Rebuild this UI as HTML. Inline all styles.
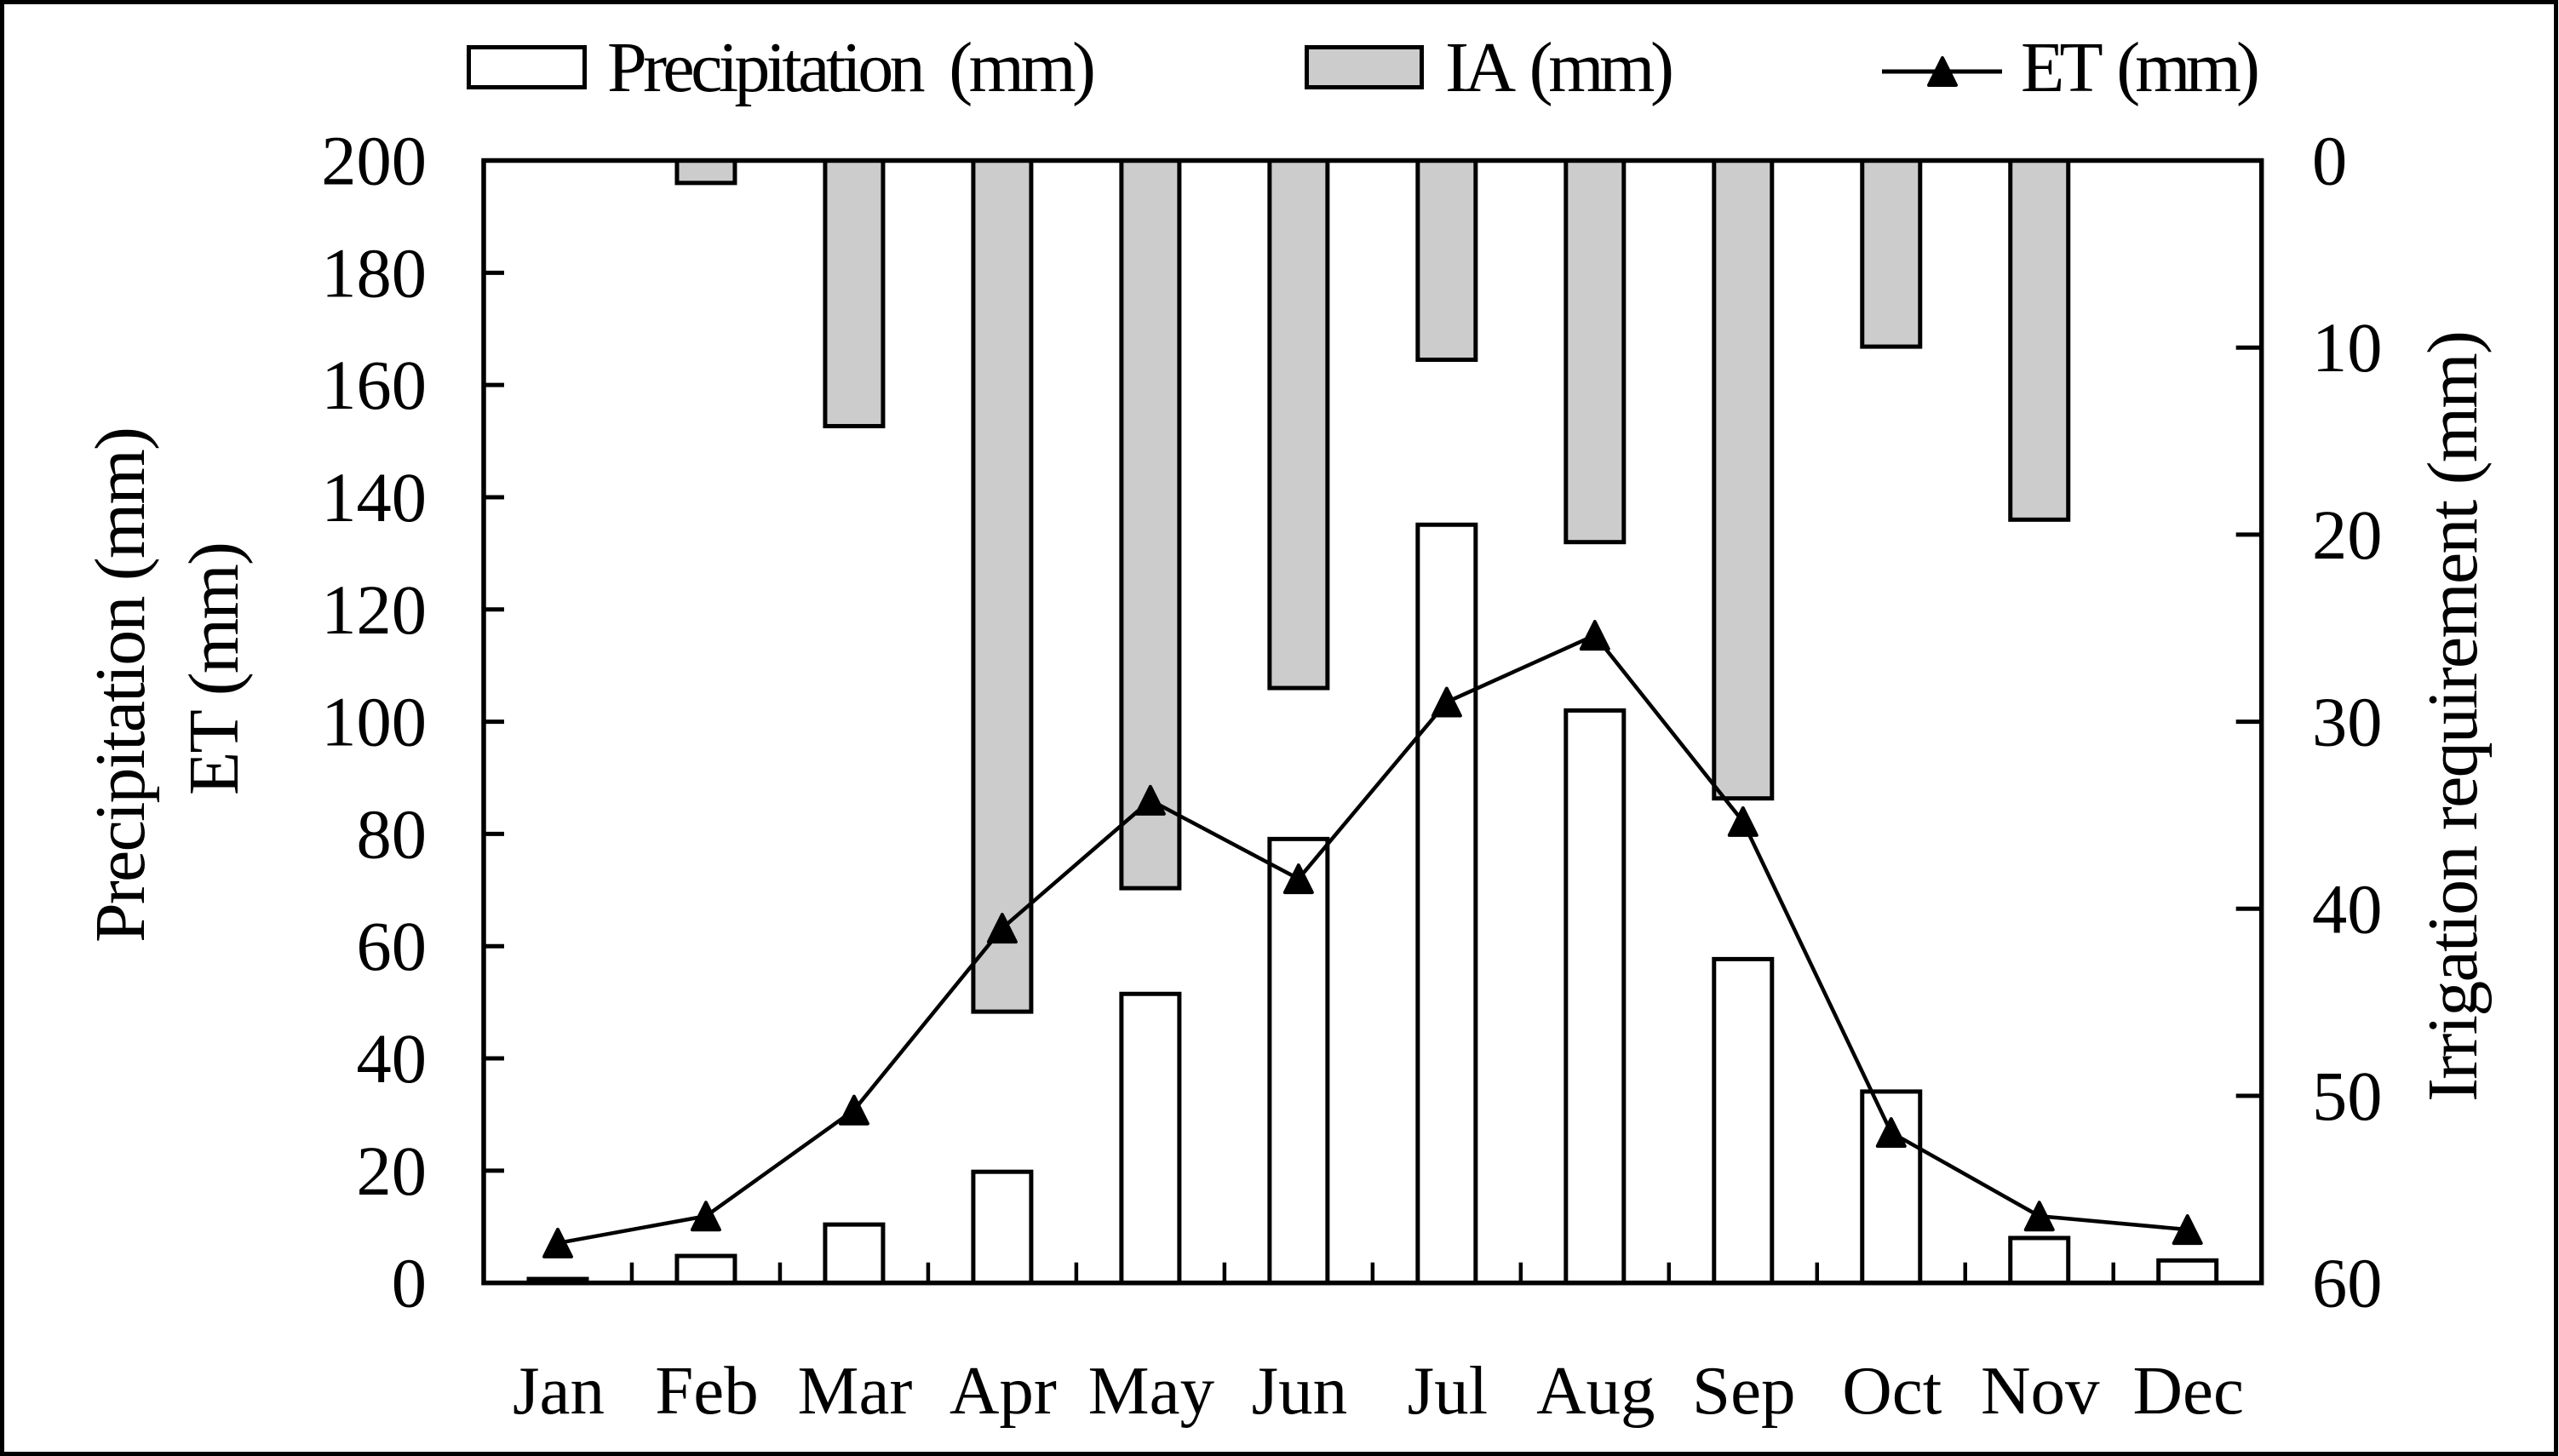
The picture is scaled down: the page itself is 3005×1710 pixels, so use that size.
<!DOCTYPE html>
<html lang="en">
<head>
<meta charset="utf-8">
<title>Monthly precipitation, irrigation requirement and ET</title>
<style>
  html, body { margin: 0; padding: 0; background: #fff; }
  svg { display: block; }
  text { font-family: "Liberation Serif", "Times New Roman", serif; fill: #000; }
</style>
</head>
<body>
<svg id="chart" xmlns="http://www.w3.org/2000/svg" width="3005" height="1710" viewBox="0 0 3005 1710">
  <rect x="2.5" y="2.5" width="2999" height="1705" fill="#fff" stroke="#000" stroke-width="5"/>

  <g>
    <g>
      <rect x="550.5" y="55.5" width="136" height="47" fill="#fff" stroke="#000" stroke-width="5"/>
      <text x="713" y="107" font-size="84" word-spacing="16" textLength="574" lengthAdjust="spacing">Precipitation (mm)</text>
    </g>
    <g>
      <rect x="1534.5" y="55.5" width="135" height="47" fill="#cccccc" stroke="#000" stroke-width="5"/>
      <text x="1697" y="107" font-size="84" word-spacing="10" textLength="269" lengthAdjust="spacing">IA (mm)</text>
    </g>
    <g>
      <line x1="2210" y1="84" x2="2351" y2="84" stroke="#000" stroke-width="5"/>
      <polygon points="2281,68 2297,100 2265,100" fill="#000" stroke="#000" stroke-width="4" stroke-linejoin="round"/>
      <text x="2373" y="107" font-size="84" word-spacing="8" textLength="281" lengthAdjust="spacing">ET (mm)</text>
    </g>
  </g>

  <g id="ia-bars"></g>
  <g id="precip-bars"></g>
  <g id="axes"></g>
  <g id="et-series"></g>

  <text transform="translate(169,1107) rotate(-90)" font-size="84" textLength="606" lengthAdjust="spacing">Precipitation (mm)</text>
  <text transform="translate(279,934) rotate(-90)" font-size="84" textLength="298" lengthAdjust="spacing">ET (mm)</text>
  <text transform="translate(2908,1294) rotate(-90)" font-size="84" textLength="906" lengthAdjust="spacing">Irrigation requirement (mm)</text>
</svg>

<script>
const months = ["Jan","Feb","Mar","Apr","May","Jun","Jul","Aug","Sep","Oct","Nov","Dec"];
const precipitation = [0.7, 4.8, 10.4, 19.8, 51.5, 79.1, 135.1, 102, 57.7, 34.1, 8, 4];
const irrigation = [0, 1.2, 14.2, 45.5, 38.9, 28.2, 10.65, 20.4, 34.1, 9.95, 19.2, 0];
const et = [7.1, 11.9, 30.8, 63.2, 86, 72, 103.5, 115.4, 82.2, 26.8, 11.9, 9.5];
const leftTicks = [0, 20, 40, 60, 80, 100, 120, 140, 160, 180, 200];
const rightTicks = [0, 10, 20, 30, 40, 50, 60];

const NS = "http://www.w3.org/2000/svg";
const plotLeft = 568, plotRight = 2655.7, plotTop = 188.5, plotBottom = 1506.7;
const leftMax = 200, rightMax = 60;
const bandWidth = (plotRight - plotLeft) / months.length;
const barWidth = 68;

function xCenter(i) { return plotLeft + bandWidth * (i + 0.5); }
function xEdge(i) { return plotLeft + bandWidth * i; }
function yLeft(v) { return plotBottom - (v / leftMax) * (plotBottom - plotTop); }
function yRight(v) { return plotTop + (v / rightMax) * (plotBottom - plotTop); }

function make(tag, parent) {
  const el = document.createElementNS(NS, tag);
  parent.appendChild(el);
  return el;
}
function setAll(el, props) {
  for (const k in props) el.setAttribute(k, props[k]);
  return el;
}

const iaGroup = document.getElementById("ia-bars");
const precipGroup = document.getElementById("precip-bars");
const axesGroup = document.getElementById("axes");
const etGroup = document.getElementById("et-series");

irrigation.forEach(function (v, i) {
  if (v <= 0) return;
  const el = make("rect", iaGroup);
  
  
  setAll(el, { x: xCenter(i) - barWidth / 2, y: plotTop, width: barWidth, height: yRight(v) - plotTop,
    fill: "#cccccc", stroke: "#000", "stroke-width": 5 });
});

precipitation.forEach(function (v, i) {
  const el = make("rect", precipGroup);
  
  
  setAll(el, { x: xCenter(i) - barWidth / 2, y: yLeft(v), width: barWidth, height: plotBottom - yLeft(v),
    fill: "#fff", stroke: "#000", "stroke-width": 5 });
});

// plot border
const border = make("rect", axesGroup);


setAll(border, { x: plotLeft, y: plotTop, width: plotRight - plotLeft, height: plotBottom - plotTop,
  fill: "none", stroke: "#000", "stroke-width": 5.5 });

// left axis
leftTicks.forEach(function (v) {
  const y = yLeft(v);
  if (v > 0 && v < leftMax) {
    const t = make("line", axesGroup);
    
    
    setAll(t, { x1: plotLeft, x2: plotLeft + 24, y1: y, y2: y, stroke: "#000", "stroke-width": 5 });
  }
  const label = make("text", axesGroup);
  
  
  setAll(label, { x: 501, y: y + 28, "font-size": 82.5, "text-anchor": "end" });
  label.textContent = String(v);
});

// right axis
rightTicks.forEach(function (v) {
  const y = yRight(v);
  if (v > 0 && v < rightMax) {
    const t = make("line", axesGroup);
    
    
    setAll(t, { x1: plotRight - 30, x2: plotRight, y1: y, y2: y, stroke: "#000", "stroke-width": 5 });
  }
  const label = make("text", axesGroup);
  
  
  setAll(label, { x: 2715, y: y + 28, "font-size": 82.5 });
  label.textContent = String(v);
});

// month ticks and labels
months.forEach(function (m, i) {
  if (i > 0) {
    const t = make("line", axesGroup);
    
    
    setAll(t, { x1: xEdge(i), x2: xEdge(i), y1: plotBottom - 24, y2: plotBottom, stroke: "#000", "stroke-width": 4.5 });
  }
  const label = make("text", axesGroup);
  
  
  setAll(label, { x: xCenter(i) + 1, y: 1660, "font-size": 81, "text-anchor": "middle" });
  label.textContent = m;
});

// ET line and markers
const etLine = make("polyline", etGroup);


setAll(etLine, { points: et.map(function (v, i) { return xCenter(i) + "," + yLeft(v); }).join(" "),
  fill: "none", stroke: "#000", "stroke-width": 4.5, "stroke-linejoin": "round" });

et.forEach(function (v, i) {
  const cx = xCenter(i), cy = yLeft(v);
  const marker = make("polygon", etGroup);
  
  
  setAll(marker, { points: cx + "," + (cy - 16) + " " + (cx + 16) + "," + (cy + 16) + " " + (cx - 16) + "," + (cy + 16),
    fill: "#000", stroke: "#000", "stroke-width": 4, "stroke-linejoin": "round" });
});
</script>
</body>
</html>
